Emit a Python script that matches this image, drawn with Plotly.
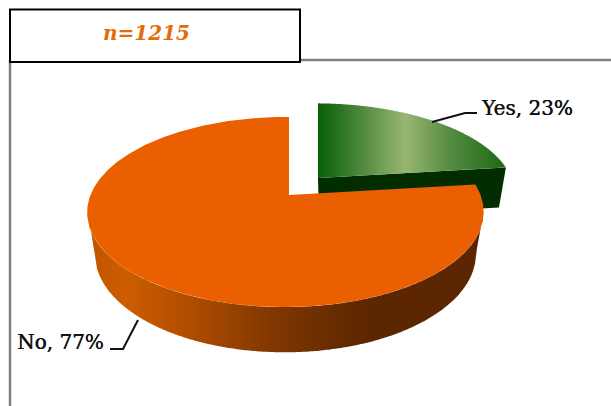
import numpy as np
import plotly.graph_objects as go

categories = ["Yes", "No"]
shares = [23, 77]
sample_label = "n=1215"

W, H = 611, 406
GRAY = "#808080"
ORANGE_TOP = "#ea6000"
GREEN_FRONT = "#022d00"

# projection of the tilted pie onto the canvas
APEX = (289, 195)
TOP = dict(rx=195, ry=92, k=0.179, m=0.018, dy=0)
BASE = dict(rx=187, ry=95, k=0.19, m=0.018, dy=40)
GREEN_TOP = dict(TOP, rx=197, ry=88)
GREEN_BASE = dict(BASE, rx=190, ry=88)
GREEN_SHIFT = (29, -17)


def project(theta, layer, shift=(0, 0)):
    u, v = np.sin(theta), np.cos(theta)
    f = 1 / (1 + layer["k"] * v + layer["m"] * u)
    x = APEX[0] + shift[0] + layer["rx"] * u * f
    y = APEX[1] + shift[1] + layer["dy"] - layer["ry"] * v * f
    return x, y


def lerp_color(x, stops):
    xs = [s[0] for s in stops]
    chans = [np.interp(x, xs, [s[1][i] for s in stops]) for i in range(3)]
    return "rgb(%d,%d,%d)" % tuple(int(round(c)) for c in chans)


def poly(xs, ys, color):
    return go.Scatter(x=list(xs), y=list(ys), mode="lines", fill="toself",
                      fillcolor=color, line=dict(color=color, width=0),
                      hoverinfo="skip", showlegend=False)


def column(a, b, upper, lower, color):
    """one pixel-aligned gradient column between two boundary functions"""
    ys_up = upper(np.array([a, b]))
    ys_lo = lower(np.array([a, b]))
    return poly([a, b, b, a, a], [ys_up[0], ys_up[1], ys_lo[1], ys_lo[0], ys_up[0]], color)


# wedge angles follow the data
split = 2 * np.pi * shares[0] / sum(shares)
green_t = np.linspace(0, split, 300)
orange_t = np.linspace(split, 2 * np.pi, 600)

traces = []

# green front cut face
ax, ay = APEX[0] + GREEN_SHIFT[0], APEX[1] + GREEN_SHIFT[1]
c_top = project(split, GREEN_TOP, GREEN_SHIFT)
c_base = project(split, GREEN_BASE, GREEN_SHIFT)
traces.append(poly([ax, c_top[0], c_base[0], ax + 1, ax],
                   [ay, c_top[1], c_base[1], ay + 40, ay], GREEN_FRONT))

# green top face: vertical gradient columns
gx, gy = project(green_t, GREEN_TOP, GREEN_SHIFT)
order = np.argsort(gx)
gx, gy = gx[order], gy[order]
green_stops = [(318, (10, 97, 6)), (345, (50, 120, 40)), (405, (152, 182, 114)),
               (450, (85, 140, 65)), (505, (28, 105, 22))]
edges = np.r_[np.arange(ax, np.floor(c_top[0]) + 1), c_top[0]]
for a, b in zip(edges[:-1], edges[1:]):
    traces.append(column(a, b, lambda q: np.interp(q, gx, gy),
                         lambda q: np.interp(q, [ax, c_top[0]], [ay, c_top[1]]),
                         lerp_color((a + b) / 2, green_stops)))

# orange outer wall: vertical gradient columns
orange_stops = [(87, (190, 84, 0)), (125, (205, 93, 0)), (200, (170, 74, 0)),
                (270, (130, 56, 0)), (330, (104, 45, 0)), (370, (92, 38, 0)), (490, (92, 38, 0))]
tx, ty = project(orange_t, TOP)
i_right, i_left = int(np.argmax(tx)), int(np.argmin(tx))
fx, fy = tx[i_right:i_left + 1][::-1], ty[i_right:i_left + 1][::-1]
bt = np.linspace(np.pi / 2, 3 * np.pi / 2, 800)
bx, by = project(bt, BASE)
b_right, b_left = int(np.argmax(bx)), int(np.argmin(bx))
base_lx = np.r_[tx[i_left], bx[b_right:b_left + 1][::-1], tx[i_right]]
base_ly = np.r_[ty[i_left], by[b_right:b_left + 1][::-1], ty[i_right]]
wall_edges = np.arange(np.floor(tx[i_left]), np.ceil(tx[i_right]) + 1, 2.0)
for a, b in zip(wall_edges[:-1], wall_edges[1:]):
    traces.append(column(a, b, lambda q: np.interp(q, fx, fy),
                         lambda q: np.interp(q, base_lx, base_ly),
                         lerp_color((a + b) / 2, orange_stops)))

# orange top face
ox, oy = project(orange_t, TOP)
traces.append(poly(np.r_[APEX[0], ox, APEX[0]], np.r_[APEX[1], oy, APEX[1]], ORANGE_TOP))

fig = go.Figure(traces)

# leader lines
leaders = [([432, 465, 477], [122, 113, 113]), ([138, 123, 110], [320, 349, 349])]
for lx, ly in leaders:
    fig.add_trace(go.Scatter(x=lx, y=ly, mode="lines", line=dict(color="#111111", width=2),
                             hoverinfo="skip", showlegend=False))

frame = [
    dict(type="line", x0=10, x1=W, y0=60, y1=60, line=dict(color=GRAY, width=2.5)),
    dict(type="line", x0=10, x1=10, y0=60, y1=H, line=dict(color=GRAY, width=2.5)),
    dict(type="rect", x0=10, x1=300, y0=9.5, y1=62, fillcolor="white", line=dict(color="black", width=2)),
]

label_font = dict(family="DejaVu Serif", size=20, color="#111111", shadow="0.4px 0 0 #111111")
annots = [
    dict(x=146.5, y=33, text="<b><i>%s</i></b>" % sample_label, showarrow=False,
         font=dict(family="DejaVu Serif", size=20, color="#e36c0a")),
    dict(x=526.5, y=108, text="%s, %d%%" % (categories[0], shares[0]), showarrow=False, font=label_font),
    dict(x=60, y=342, text="%s, %d%%" % (categories[1], shares[1]), showarrow=False, font=label_font),
]

fig.update_layout(
    width=W, height=H, margin=dict(l=0, r=0, t=0, b=0),
    paper_bgcolor="white", plot_bgcolor="white", showlegend=False,
    xaxis=dict(range=[0, W], visible=False, fixedrange=True),
    yaxis=dict(range=[H, 0], visible=False, fixedrange=True),
    shapes=frame, annotations=annots,
)
fig.write_html("out.html", config=dict(displayModeBar=False),
               post_script="document.body.style.margin='0';document.body.style.overflow='hidden';")
